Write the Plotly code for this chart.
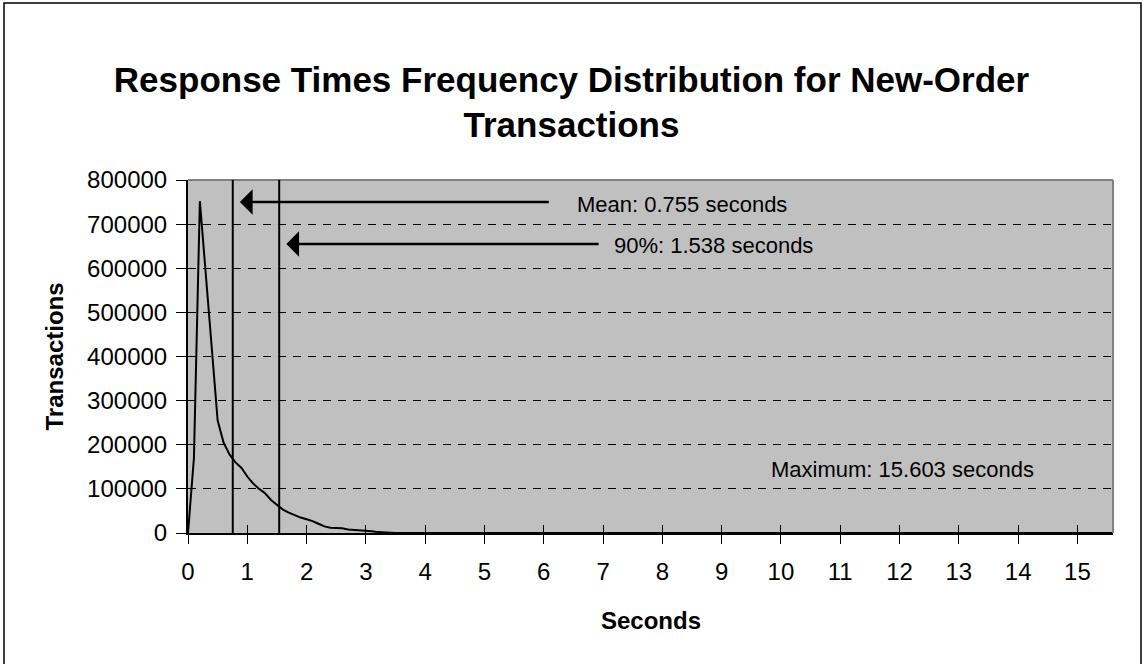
import plotly.graph_objects as go

# Response-time histogram for New-Order transactions (0.1 s buckets)
seconds = [0.0, 0.1, 0.2, 0.3, 0.4, 0.5, 0.6, 0.7, 0.8, 0.9, 1.0,
           1.1, 1.2, 1.3, 1.4, 1.5, 1.6, 1.7, 1.8, 1.9, 2.0,
           2.1, 2.2, 2.3, 2.4, 2.5, 2.6, 2.7, 2.8, 2.9, 3.0,
           3.1, 3.2, 3.3, 3.4, 3.5, 15.6]
transactions = [0, 170000, 752000, 590000, 420000, 255000, 205000, 178000, 160000, 148000, 128000,
                112000, 100000, 90000, 75000, 64000, 53000, 46000, 40000, 35000, 31000,
                27000, 21000, 15000, 12000, 12000, 11000, 8000, 7000, 7000, 6000,
                4000, 2000, 1000, 500, 0, 0]

MEAN_S = 0.755
P90_S = 1.538
MAX_S = 15.603

x_ticks = list(range(0, 16))
y_ticks = [0, 100000, 200000, 300000, 400000, 500000, 600000, 700000, 800000]

FONT = "Arial, Liberation Sans, sans-serif"

fig = go.Figure()
fig.add_trace(go.Scatter(
    x=seconds, y=transactions, mode="lines",
    line=dict(color="black", width=2), hoverinfo="skip", showlegend=False,
))

fig.update_layout(
    width=1143, height=664,
    margin=dict(l=188, r=30, t=180, b=131),
    paper_bgcolor="white", plot_bgcolor="#C0C0C0",
    font=dict(family=FONT, color="black", size=22),
    title=dict(
        text="<b>Response Times Frequency Distribution for New-Order<br>Transactions</b>",
        x=0.5, xanchor="center", y=0.862, yanchor="top", yref="container",
        font=dict(family=FONT, size=35, color="black"),
    ),
    xaxis=dict(
        range=[0, 15.6], tickmode="array", tickvals=x_ticks, ticktext=[str(v) for v in x_ticks],
        showline=True, linecolor="black", linewidth=2, showgrid=False, zeroline=False,
        ticks="outside", ticklen=9, tickwidth=1, tickcolor="black",
        tickfont=dict(family=FONT, size=24), ticklabelstandoff=7,
    ),
    xaxis2=dict(
        range=[0, 15.6], overlaying="x", matches="x", tickmode="array", tickvals=x_ticks,
        showticklabels=False, showline=False, showgrid=False, zeroline=False,
        ticks="inside", ticklen=8, tickwidth=1, tickcolor="black", side="bottom",
    ),
    yaxis=dict(
        range=[0, 800000], tickmode="array", tickvals=y_ticks, ticktext=[str(v) for v in y_ticks],
        showline=True, linecolor="black", linewidth=2, zeroline=False,
        showgrid=True, gridcolor="black", gridwidth=1, griddash="8px,7px",
        ticks="outside", ticklen=10, tickwidth=1, tickcolor="black",
        tickfont=dict(family=FONT, size=24), ticklabelstandoff=4,
    ),
)

# invisible trace so the overlaid axis with inward ticks is rendered
fig.add_trace(go.Scatter(x=[0], y=[0], xaxis="x2", yaxis="y", mode="markers",
                         marker=dict(opacity=0), hoverinfo="skip", showlegend=False))

# Plot-area frame: grey top and right edges
fig.add_shape(type="line", xref="paper", yref="paper", x0=0, x1=1, y0=1, y1=1,
              line=dict(color="#808080", width=2))
fig.add_shape(type="line", xref="paper", yref="paper", x0=1, x1=1, y0=0, y1=1,
              line=dict(color="#808080", width=2))

# Mean and 90th percentile markers
for xv in (MEAN_S, P90_S):
    fig.add_shape(type="line", xref="x", yref="y", x0=xv, x1=xv, y0=0, y1=800000,
                  line=dict(color="black", width=2))

# Arrows pointing to the marker lines, with their labels
arrow_specs = [
    (MEAN_S, 750000, 6.11, "Mean: 0.755 seconds", 6.53, 745000),
    (P90_S, 655000, 6.95, "90%: 1.538 seconds", 7.15, 652000),
]
for xv, yv, tail_x, label, lx, ly in arrow_specs:
    fig.add_annotation(x=xv + 0.12, y=yv, ax=tail_x, ay=yv, xref="x", yref="y",
                       axref="x", ayref="y", text="", showarrow=True,
                       arrowhead=1, arrowsize=1.7, arrowwidth=2.5, arrowcolor="black")
    fig.add_annotation(x=lx, y=ly, xref="x", yref="y", text=label, showarrow=False,
                       xanchor="left", yanchor="middle", font=dict(family=FONT, size=22))

fig.add_annotation(x=9.79, y=145000, xref="x", yref="y", text=f"Maximum: {MAX_S:.3f} seconds",
                   showarrow=False, xanchor="left", yanchor="middle",
                   font=dict(family=FONT, size=22))

# Axis titles
fig.add_annotation(x=-0.1438, y=0.5, xref="paper", yref="paper", text="<b>Transactions</b>",
                   textangle=-90, showarrow=False, xanchor="center", yanchor="middle",
                   font=dict(family=FONT, size=24))
fig.add_annotation(x=0.5, y=-0.249, xref="paper", yref="paper", text="<b>Seconds</b>",
                   showarrow=False, xanchor="center", yanchor="middle",
                   font=dict(family=FONT, size=24))

# Chart-area border
fig.add_shape(type="rect", xref="paper", yref="paper",
              x0=(4 - 188) / 925, x1=(1141 - 188) / 925,
              y0=(533 - 680) / 353, y1=(533 - 3) / 353,
              line=dict(color="black", width=1.5), fillcolor="rgba(0,0,0,0)")

fig.write_html("out.html")
